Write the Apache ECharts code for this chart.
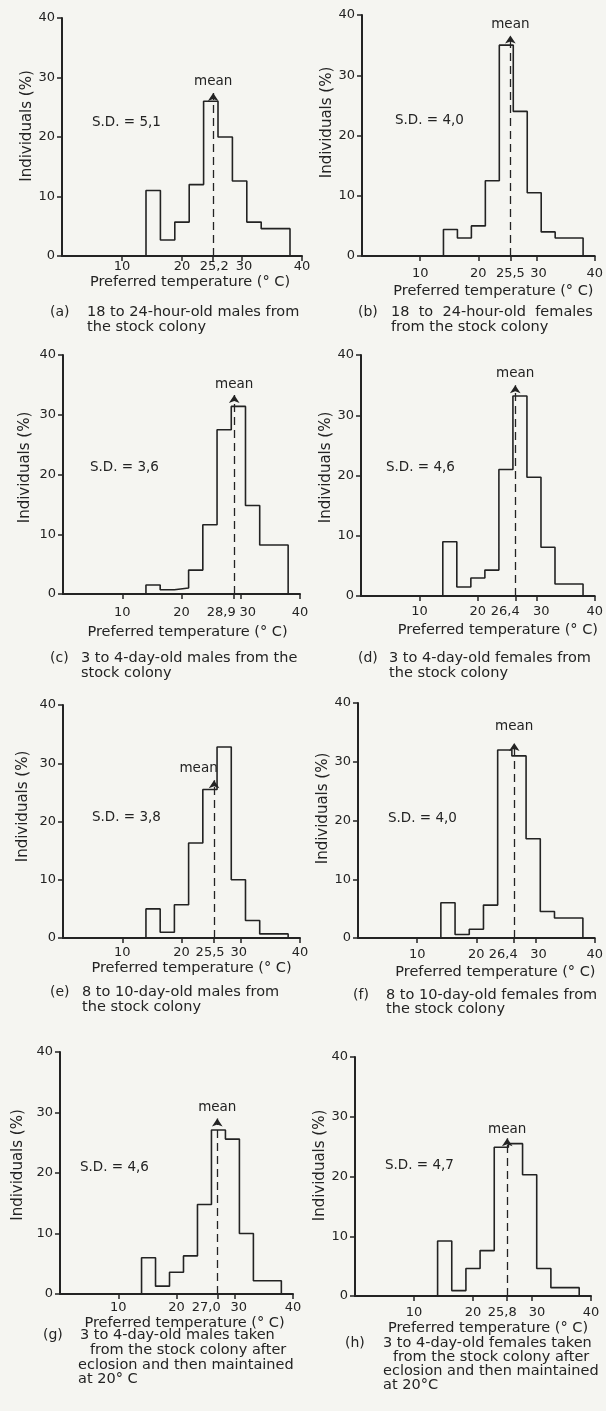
<!DOCTYPE html>
<html>
<head>
<meta charset="utf-8">
<title>Preferred temperature histograms</title>
<script src="https://cdn.jsdelivr.net/npm/echarts@6/dist/echarts.min.js"></script>
<style>
  html, body { margin: 0; padding: 0; background: #f5f5f1; }
  #chart { width: 606px; height: 1411px; }
</style>
</head>
<body>
<div id="chart"></div>
<script>
// bins shared by every panel (deg C)
var binEdges = [14, 16.4, 18.8, 21.2, 23.6, 26, 28.4, 30.8, 33.2, 35.6, 38];
var xTicks = [10, 20, 30, 40];

// individuals (%) per bin
var heightsA = [11, 2.7, 5.7, 12, 26, 20, 12.6, 5.7, 4.6, 4.6];
var heightsB = [4.4, 3, 5, 12.5, 35, 24, 10.5, 4, 3, 3];
var heightsC = [1.5, 0.7, 1, 4, 11.6, 27.5, 31.4, 14.8, 8.2, 8.2];
var heightsD = [9, 1.5, 3, 4.3, 21, 33.2, 19.7, 8.1, 2, 2];
var heightsE = [5, 1, 5.7, 16.3, 25.5, 32.8, 10, 3, 0.7, 0.7];
var heightsF = [6, 0.6, 1.5, 5.6, 32, 31, 16.9, 4.5, 3.4, 3.4];
var heightsG = [6, 1.3, 3.6, 6.3, 14.8, 27.1, 25.6, 10, 2.2, 2.2];
var heightsH = [9.2, 0.9, 4.6, 7.6, 24.9, 25.5, 20.3, 4.6, 1.4, 1.4];
var heights = [heightsA, heightsB, heightsC, heightsD, heightsE, heightsF, heightsG, heightsH];

var means = [25.2, 25.5, 28.9, 26.4, 25.5, 26.4, 27.0, 25.8];
var meanTops = [27.4, 36.6, 33.3, 35, 27.1, 33.2, 29, 26.4];
var sdText = ['5,1', '4,0', '3,6', '4,6', '3,8', '4,0', '4,6', '4,7'];

var panelTags = ['(a)', '(b)', '(c)', '(d)', '(e)', '(f)', '(g)', '(h)'];
var captions = [
  ['18 to 24-hour-old males from', 'the stock colony'],
  ['18  to  24-hour-old  females', 'from the stock colony'],
  ['3 to 4-day-old males from the', 'stock colony'],
  ['3 to 4-day-old females from', 'the stock colony'],
  ['8 to 10-day-old males from', 'the stock colony'],
  ['8 to 10-day-old females from', 'the stock colony'],
  ['3 to 4-day-old males taken', 'from the stock colony after', 'eclosion and then maintained', 'at 20° C'],
  ['3 to 4-day-old females taken', 'from the stock colony after', 'eclosion and then maintained', 'at 20°C']
];
var xName = 'Preferred temperature (° C)';
var yName = 'Individuals (%)';

// page layout, pixels (mShift / tShift nudge the mean and "30" tick labels apart)
var layout = [
  { grid: [62, 18, 240, 238], lab: 4.5, name: 17, xShift: 8, yGap: 27, yUp: 11, sd: [92, 122], tag: [50, 312], lines: [[87, 312], [87, 327]], meanDist: 4, meanPad: 0, mShift: 1, tShift: 2 },
  { grid: [362, 15, 236, 241], lab: 11.5, name: 28, xShift: 15, yGap: 24, yUp: 13, sd: [395, 120], tag: [358, 312], lines: [[391, 312], [391, 327]], meanDist: 4, meanPad: 0, mShift: 0, tShift: 2 },
  { grid: [63, 355, 237, 239], lab: 12.5, name: 31, xShift: 6, yGap: 30, yUp: 7, sd: [90, 467], tag: [50, 658], lines: [[81, 658], [81, 673]], meanDist: 4, meanPad: 0, mShift: -13, tShift: 7 },
  { grid: [361, 355, 235, 241], lab: 9.5, name: 27, xShift: 20, yGap: 27, yUp: 8, sd: [386, 467], tag: [358, 658], lines: [[389, 658], [389, 673]], meanDist: 5, meanPad: 0, mShift: -10, tShift: 5 },
  { grid: [63, 705, 237, 233], lab: 8.5, name: 20, xShift: 10, yGap: 32, yUp: 15, sd: [92, 817], tag: [50, 992], lines: [[82, 992], [82, 1007]], meanDist: 5, meanPad: 31, mShift: -4, tShift: -2 },
  { grid: [358, 703, 238, 235], lab: 10.5, name: 27, xShift: 19, yGap: 27, yUp: 12, sd: [388, 818], tag: [353, 995], lines: [[386, 995], [386, 1009]], meanDist: 9, meanPad: 0, mShift: -11, tShift: 3 },
  { grid: [60, 1052, 233, 242], lab: 7.5, name: 17, xShift: 8, yGap: 34, yUp: 8, sd: [80, 1167], tag: [43, 1335], lines: [[80, 1335], [90, 1350], [78, 1365], [78, 1379]], meanDist: 4, meanPad: 0, mShift: -11, tShift: 4 },
  { grid: [355, 1057, 236, 239], lab: 10.5, name: 25, xShift: 15, yGap: 27, yUp: 11, sd: [385, 1165], tag: [345, 1343], lines: [[383, 1343], [393, 1357], [383, 1371], [383, 1385]], meanDist: 2, meanPad: 0, mShift: -5, tShift: 5 }
];

var ink = '#232323';
var font = 'DejaVu Sans';

function shiftPad(s) {
  // rich-text padding that moves a centred label by s pixels
  return s < 0 ? [0, -2 * s, 0, 0] : [0, 0, 0, 2 * s];
}

var chart = echarts.init(document.getElementById('chart'), null, { renderer: 'canvas' });

var grids = [], xAxes = [], yAxes = [], series = [], graphics = [];

heights.forEach(function (h, i) {
  var L = layout[i];
  var m = means[i];
  grids.push({ left: L.grid[0], top: L.grid[1], width: L.grid[2], height: L.grid[3] });

  xAxes.push({
    gridIndex: i,
    type: 'value',
    min: 0,
    max: 40,
    name: xName,
    nameLocation: 'middle',
    nameGap: L.name,
    nameTextStyle: { color: ink, fontFamily: font, fontSize: 14.5, padding: [0, 0, 0, 2 * L.xShift] },
    axisLine: { show: true, onZero: false, lineStyle: { color: ink, width: 2 } },
    axisTick: { show: true, length: 5, lineStyle: { color: ink, width: 1.5 }, customValues: xTicks.concat([m]) },
    axisLabel: {
      color: ink, fontFamily: font, fontSize: 13, margin: L.lab,
      customValues: [10, 20, m, 30, 40],
      formatter: function (v) {
        if (v === m) return '{m|' + m.toFixed(1).replace('.', ',') + '}';
        if (v === 30) return '{t|30}';
        return String(v);
      },
      rich: {
        m: { padding: shiftPad(L.mShift) },
        t: { padding: shiftPad(L.tShift) }
      }
    },
    splitLine: { show: false }
  });

  yAxes.push({
    gridIndex: i,
    type: 'value',
    min: 0,
    max: 40,
    interval: 10,
    name: yName,
    nameLocation: 'middle',
    nameGap: L.yGap,
    nameTextStyle: { color: ink, fontFamily: font, fontSize: 15, padding: [0, 0, 0, 2 * L.yUp] },
    axisLine: { show: true, onZero: false, lineStyle: { color: ink, width: 2 } },
    axisTick: { show: true, length: 5, lineStyle: { color: ink, width: 1.5 } },
    axisLabel: { color: ink, fontFamily: font, fontSize: 13, margin: 7 },
    splitLine: { show: false }
  });

  // step outline of the histogram
  var pts = [[binEdges[0], 0]];
  h.forEach(function (v, k) { pts.push([binEdges[k + 1], v]); });
  pts.push([binEdges[binEdges.length - 1], 0]);

  series.push({
    type: 'line',
    xAxisIndex: i,
    yAxisIndex: i,
    step: 'start',
    data: pts,
    symbol: 'none',
    silent: true,
    lineStyle: { color: ink, width: 1.6 },
    markLine: {
      silent: true,
      symbol: ['none', 'arrow'],
      symbolSize: 8,
      lineStyle: { color: ink, width: 1.3, type: [8, 5] },
      label: {
        show: true, position: 'end', formatter: 'mean',
        color: ink, fontFamily: font, fontSize: 13.5,
        distance: L.meanDist, padding: [0, L.meanPad, 0, 0]
      },
      emphasis: { disabled: true },
      data: [[{ coord: [m, 0] }, { coord: [m, meanTops[i]] }]]
    }
  });

  graphics.push({
    type: 'text', x: L.sd[0], y: L.sd[1],
    style: { text: 'S.D. = ' + sdText[i], fill: ink, font: '13.5px "DejaVu Sans"', verticalAlign: 'middle' }
  });
  graphics.push({
    type: 'text', x: L.tag[0], y: L.tag[1],
    style: { text: panelTags[i], fill: ink, font: '14px "DejaVu Sans"', verticalAlign: 'middle' }
  });
  captions[i].forEach(function (line, k) {
    graphics.push({
      type: 'text', x: L.lines[k][0], y: L.lines[k][1],
      style: { text: line, fill: ink, font: '14.5px "DejaVu Sans"', verticalAlign: 'middle' }
    });
  });
});

chart.setOption({
  backgroundColor: '#f5f5f1',
  animation: false,
  grid: grids,
  xAxis: xAxes,
  yAxis: yAxes,
  series: series,
  graphic: graphics
});
window.addEventListener('resize', function () { chart.resize(); });
</script>
</body>
</html>
